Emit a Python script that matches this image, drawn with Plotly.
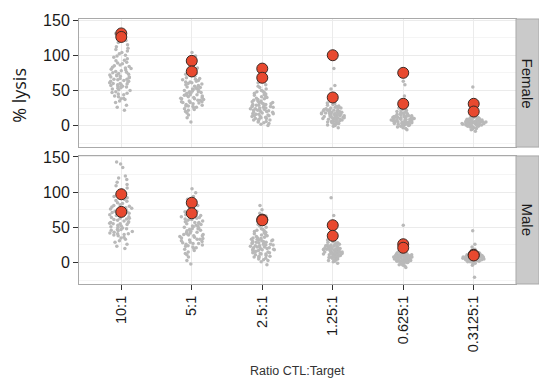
import plotly.graph_objects as go

categories = ["10:1", "5:1", "2.5:1", "1.25:1", "0.625:1", "0.3125:1"]
facets = ["Female", "Male"]

female_gray = {
    "10:1": [22, 26, 29, 33, 35, 37, 39, 41, 42, 44, 45, 46, 47, 48, 50, 51, 52, 53, 54, 55,
             56, 56, 57, 58, 59, 60, 60, 61, 62, 63, 63, 64, 65, 66, 66, 67, 68, 69, 69, 70,
             71, 72, 72, 73, 74, 75, 76, 77, 78, 79, 80, 81, 82, 83, 84, 85, 86, 88, 89, 90,
             92, 93, 95, 97, 99, 100, 102, 104, 106, 108, 110, 112, 115, 118, 121, 124, 127, 131, 38, 58],
    "5:1": [5, 11, 15, 18, 20, 22, 23, 24, 25, 26, 27, 28, 29, 30, 31, 32, 33, 33, 34, 35,
            36, 36, 37, 38, 39, 40, 40, 41, 42, 43, 43, 44, 45, 46, 46, 47, 48, 49, 50, 50,
            51, 52, 53, 54, 55, 56, 57, 58, 59, 60, 61, 62, 63, 64, 65, 66, 67, 68, 70, 71,
            73, 74, 76, 78, 80, 82, 85, 88, 91, 95, 99, 104, 28, 34, 38, 44, 48, 52, 56, 62],
    "2.5:1": [0, 2, 4, 5, 6, 7, 8, 9, 10, 11, 12, 13, 14, 14, 15, 16, 17, 17, 18, 19,
              20, 20, 21, 22, 22, 23, 24, 24, 25, 26, 26, 27, 28, 28, 29, 30, 30, 31, 32, 33,
              33, 34, 35, 36, 37, 38, 39, 40, 41, 42, 43, 44, 45, 46, 48, 49, 50, 52, 54, 56,
              58, 61, 64, 68, 72, 77, 82, 10, 16, 19, 23, 27, 31, 35, 3, 8, 13, 25, 29, 47],
    "1.25:1": [-3, -1, 0, 1, 2, 3, 4, 5, 5, 6, 7, 7, 8, 9, 9, 10, 10, 11, 11, 12,
               12, 13, 13, 14, 14, 15, 15, 15, 16, 16, 17, 17, 18, 18, 19, 19, 20, 20, 21, 21,
               22, 23, 23, 24, 25, 25, 26, 27, 28, 29, 30, 31, 32, 33, 35, 37, 39, 42, 45, 52,
               57, 81, 100, 3, 6, 8, 11, 13, 16, 18, 10, 14, 12, 17, 22, 26, 4, 9, 19, 24],
    "0.625:1": [-6, -4, -3, -2, -1, 0, 0, 1, 1, 2, 2, 3, 3, 4, 4, 5, 5, 5, 6, 6,
                7, 7, 7, 8, 8, 8, 9, 9, 9, 10, 10, 10, 11, 11, 11, 12, 12, 12, 13, 13,
                14, 14, 15, 15, 16, 16, 17, 18, 18, 19, 20, 21, 22, 23, 24, 25, 26, 28, 30, 32,
                35, 42, 58, 63, 3, 6, 9, 12, 4, 8, 11, 14, 2, 7, 10, 13, 5, 9, 17, 20],
    "0.3125:1": [-8, -6, -5, -4, -3, -3, -2, -2, -1, -1, 0, 0, 0, 1, 1, 1, 2, 2, 2, 3,
                 3, 3, 3, 4, 4, 4, 4, 5, 5, 5, 5, 6, 6, 6, 7, 7, 7, 8, 8, 8,
                 9, 9, 10, 10, 11, 11, 12, 13, 14, 15, 16, 18, 20, 22, 25, 32, 55, 1, 3, 5,
                 2, 4, 6, 0, 2, 4, 6, 8, 3, 5, 7, 1, 3, 9, -1, 2, 5, 7, 10, 12],
}

male_gray = {
    "10:1": [20, 23, 26, 29, 31, 33, 35, 36, 38, 39, 40, 41, 42, 43, 44, 45, 46, 47, 48, 49,
             50, 51, 52, 53, 54, 55, 56, 57, 57, 58, 59, 60, 61, 62, 63, 64, 65, 66, 67, 68,
             69, 70, 71, 72, 73, 74, 75, 76, 77, 78, 80, 81, 82, 84, 85, 87, 88, 90, 92, 94,
             96, 98, 100, 103, 106, 109, 111, 114, 118, 120, 123, 135, 140, 143, 41, 47, 55, 63, 70, 79],
    "5:1": [3, 8, 11, 13, 15, 17, 19, 20, 22, 23, 24, 25, 26, 27, 28, 29, 30, 31, 32, 33,
            34, 35, 36, 37, 38, 39, 40, 40, 41, 42, 43, 44, 45, 46, 47, 48, 49, 50, 51, 52,
            53, 54, 55, 56, 57, 58, 59, 60, 61, 62, 63, 64, 65, 66, 68, 69, 70, 72, 73, 75,
            77, 79, 81, 84, 87, 90, 94, 99, 105, -2, 21, 27, 33, 38, 43, 48, 52, 57, 62, 67],
    "2.5:1": [-3, 1, 3, 5, 6, 7, 8, 9, 10, 11, 12, 13, 14, 15, 15, 16, 17, 18, 18, 19,
              20, 21, 21, 22, 23, 23, 24, 25, 25, 26, 27, 27, 28, 29, 29, 30, 31, 32, 32, 33,
              34, 35, 36, 37, 38, 39, 40, 41, 42, 43, 44, 45, 47, 48, 50, 52, 54, 56, 58, 62,
              66, 70, 75, 81, 9, 14, 17, 20, 24, 28, 31, 35, 12, 19, 22, 26, 30, 33, 4, 46],
    "1.25:1": [-1, 1, 2, 3, 4, 5, 6, 7, 8, 8, 9, 10, 10, 11, 12, 12, 13, 13, 14, 14,
               15, 15, 16, 16, 17, 17, 18, 18, 19, 19, 20, 20, 21, 21, 22, 23, 23, 24, 25, 26,
               27, 28, 29, 30, 31, 32, 34, 36, 38, 41, 44, 52, 67, 92, 6, 9, 11, 13, 15, 18,
               20, 22, 25, 12, 14, 16, 17, 19, 21, 24, 27, 10, 13, 15, 18, 3, 7, 26, 33, 36],
    "0.625:1": [-7, -5, -4, -3, -2, -1, 0, 0, 1, 1, 2, 2, 3, 3, 4, 4, 4, 5, 5, 5,
                6, 6, 6, 7, 7, 7, 8, 8, 8, 8, 9, 9, 9, 10, 10, 10, 11, 11, 11, 12,
                12, 13, 13, 14, 14, 15, 16, 17, 18, 19, 20, 21, 23, 26, 30, 53, 3, 5, 7, 9,
                11, 2, 4, 6, 8, 10, 12, 1, 5, 7, 9, 13, 6, 8, 10, 3, 11, 15, 0, 14],
    "0.3125:1": [-21, -4, -2, -1, 0, 1, 1, 2, 2, 3, 3, 4, 4, 4, 5, 5, 5, 6, 6, 6,
                 6, 7, 7, 7, 7, 8, 8, 8, 8, 9, 9, 9, 10, 10, 10, 11, 11, 12, 12, 13,
                 13, 14, 15, 16, 17, 18, 19, 22, 26, 45, 3, 5, 7, 9, 11, 4, 6, 8, 10, 2,
                 5, 7, 9, 12, 6, 8, 3, 10, 14, 1, 7, 11, 4, 9, 5, 13, 0, 6, 8, 15],
}

female_red = {"10:1": [131, 126], "5:1": [92, 77], "2.5:1": [81, 68],
              "1.25:1": [100, 40], "0.625:1": [75, 31], "0.3125:1": [31, 20]}
male_red = {"10:1": [97, 72], "5:1": [85, 70], "2.5:1": [61, 60],
            "1.25:1": [53, 38], "0.625:1": [26, 21], "0.3125:1": [11, 10]}

y_ticks = [0, 50, 100, 150]

FONT = "Liberation Sans, Arial, sans-serif"
GRAY_PT = "#b9b9b9"
RED = "#e8492f"
BORDER = "#a9a9a9"
GRID = "#ebebeb"

fig = go.Figure()

for gray, red, xa, ya in [(female_gray, female_red, "x", "y"), (male_gray, male_red, "x2", "y2")]:
    bx, by = [], []
    for c in categories:
        bx += [c] * len(gray[c])
        by += gray[c]
    fig.add_trace(go.Box(
        x=bx, y=by, xaxis=xa, yaxis=ya,
        boxpoints="all", jitter=0.72, pointpos=0,
        fillcolor="rgba(0,0,0,0)", line=dict(color="rgba(0,0,0,0)", width=0),
        marker=dict(color=GRAY_PT, size=3.5, line=dict(width=0)),
        hoverinfo="skip", showlegend=False,
    ))
    rx, ry = [], []
    for c in categories:
        rx += [c] * len(red[c])
        ry += red[c]
    fig.add_trace(go.Scatter(
        x=rx, y=ry, xaxis=xa, yaxis=ya, mode="markers",
        marker=dict(color=RED, size=11, line=dict(color="#3a2a25", width=1)),
        showlegend=False, hoverinfo="skip",
    ))

top_dom = [0.5167, 1.0]
bot_dom = [0.0, 0.4833]

xcommon = dict(type="category", categoryorder="array", categoryarray=categories,
               range=[-0.6, 5.6], showgrid=True, gridcolor=GRID, gridwidth=1,
               showline=True, mirror=True, linecolor=BORDER, linewidth=1, zeroline=False)
ycommon = dict(range=[-30.5, 151.5], tickvals=y_ticks, showgrid=True, gridcolor=GRID,
               gridwidth=1, zeroline=False, showline=True, mirror=True, linecolor=BORDER,
               linewidth=1, ticks="outside", ticklen=5, tickcolor="#333333", tickwidth=1,
               tickfont=dict(family=FONT, size=16, color="#1a1a1a"),
               minor=dict(tickvals=[-25, 25, 75, 125], showgrid=True, gridcolor="#f5f5f5",
                          ticks=""))

fig.update_layout(
    width=539, height=383,
    margin=dict(l=79, r=23, t=15, b=99),
    paper_bgcolor="white", plot_bgcolor="white",
    font=dict(family=FONT, color="#1a1a1a"),
    xaxis=dict(**xcommon, anchor="y", domain=[0, 1], showticklabels=False, ticks=""),
    xaxis2=dict(**xcommon, anchor="y2", domain=[0, 1], matches="x",
                ticks="outside", ticklen=5, tickcolor="#333333", tickwidth=1,
                tickangle=-90, tickfont=dict(family=FONT, size=14.5, color="#1a1a1a")),
    yaxis=dict(**ycommon, anchor="x", domain=top_dom),
    yaxis2=dict(**ycommon, anchor="x2", domain=bot_dom),
    boxgap=0.3,
)

strip_w = 23 / 437
for name, dom in zip(facets, [top_dom, bot_dom]):
    fig.add_shape(type="rect", xref="paper", yref="paper",
                  x0=1, x1=1 + strip_w, y0=dom[0], y1=dom[1],
                  fillcolor="#cacaca", line=dict(color=BORDER, width=1), layer="above")
    fig.add_annotation(text=name, xref="paper", yref="paper",
                       x=1 + strip_w / 2, y=(dom[0] + dom[1]) / 2, textangle=90,
                       showarrow=False, font=dict(family=FONT, size=15, color="#1a1a1a"),
                       xanchor="center", yanchor="middle")

fig.add_annotation(text="Ratio CTL:Target", xref="paper", yref="paper",
                   x=0.5, y=(284 - 372) / 269, showarrow=False,
                   font=dict(family=FONT, size=12.5, color="#333333"),
                   xanchor="center", yanchor="middle")
fig.add_annotation(text="% lysis", xref="paper", yref="paper",
                   x=(19 - 79) / 437, y=(284 - 93) / 269, textangle=-90, showarrow=False,
                   font=dict(family="Open Sans, Liberation Sans, sans-serif", size=18, color="#1a1a1a"),
                   xanchor="center", yanchor="middle")

fig.write_html("out.html")
